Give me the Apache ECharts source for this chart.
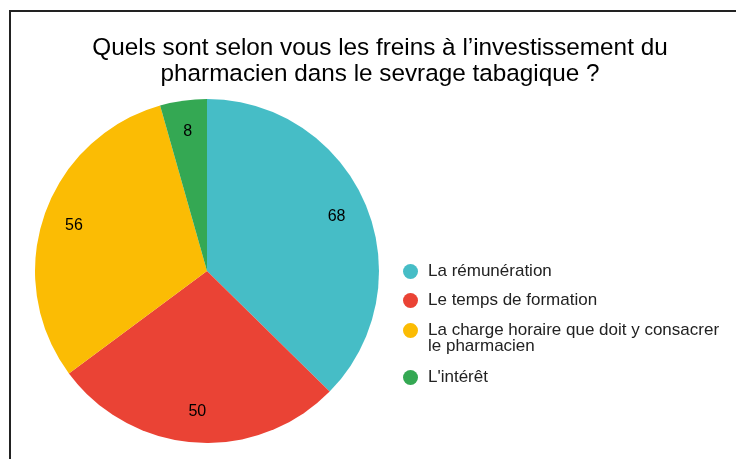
<!DOCTYPE html>
<html>
<head>
<meta charset="utf-8">
<script src="https://cdn.jsdelivr.net/npm/echarts@6/dist/echarts.min.js"></script>
<style>
  html, body { margin: 0; padding: 0; background: #fff; }
  #frame {
    position: absolute; left: 9px; top: 10px; right: 0; bottom: 0;
    border-left: 2px solid #222; border-top: 2px solid #222;
  }
  #chart { position: absolute; left: 0; top: 0; width: 736px; height: 459px; }
</style>
</head>
<body>
<div id="frame"></div>
<div id="chart"></div>
<script>
// Answers and counts
const categories = [
  "La rémunération",
  "Le temps de formation",
  "La charge horaire que doit y consacrer le pharmacien",
  "L'intérêt"
];
const counts = [68, 50, 56, 8];
const colors = ["#46BDC6", "#EA4335", "#FBBC04", "#34A853"];
const titleText = "Quels sont selon vous les freins à l’investissement du\npharmacien dans le sevrage tabagique ?";

const font = "'Liberation Sans', Arial, sans-serif";
const pieData = categories.map((name, i) => ({ name, value: counts[i] }));

const legendText = {
  fontFamily: font, fontSize: 17, color: '#222', lineHeight: 16,
  padding: [0, 0, 0, 5], width: 300, overflow: 'break'
};
const legendBase = {
  orient: 'vertical',
  left: 403,
  padding: 0,
  itemGap: 12,
  icon: 'circle',
  itemWidth: 15,
  itemHeight: 15,
  textStyle: legendText
};
// Tall marker box with the dot at its top, so a wrapped entry keeps
// its dot beside the first line of text.
const topDot = 'path://M0,7.5 A7.5,7.5 0 1 0 15,7.5 A7.5,7.5 0 1 0 0,7.5 Z M0,31 L15,31 Z';

const chart = echarts.init(document.getElementById('chart'), null, { renderer: 'canvas' });
chart.setOption({
  backgroundColor: 'transparent',
  animation: false,
  color: colors,
  title: {
    text: titleText,
    left: 380,
    top: 35,
    padding: 0,
    textAlign: 'center',
    textStyle: { fontFamily: font, fontSize: 24.3, fontWeight: 'normal', color: '#000', lineHeight: 26 }
  },
  legend: [
    Object.assign({}, legendBase, { top: 263, data: categories.slice(0, 2) }),
    Object.assign({}, legendBase, { top: 322, itemHeight: 31, icon: topDot, data: [categories[2]] }),
    Object.assign({}, legendBase, { top: 369, data: [categories[3]] })
  ],
  series: [
    {
      type: 'pie',
      center: [207, 271],
      radius: [0, 172],
      startAngle: 90,
      clockwise: true,
      data: pieData,
      label: { show: false },
      labelLine: { show: false },
      itemStyle: { borderWidth: 0 }
    },
    {
      // value labels sitting near the rim of each slice
      type: 'pie',
      center: [207, 271],
      radius: [103, 172],
      startAngle: 90,
      clockwise: true,
      silent: true,
      data: pieData,
      itemStyle: { color: 'rgba(0,0,0,0)', borderWidth: 0 },
      label: {
        show: true,
        position: 'inside',
        formatter: '{c}',
        fontFamily: font,
        fontSize: 16,
        color: '#000'
      },
      labelLine: { show: false },
      emphasis: { disabled: true }
    }
  ]
});
</script>
</body>
</html>
